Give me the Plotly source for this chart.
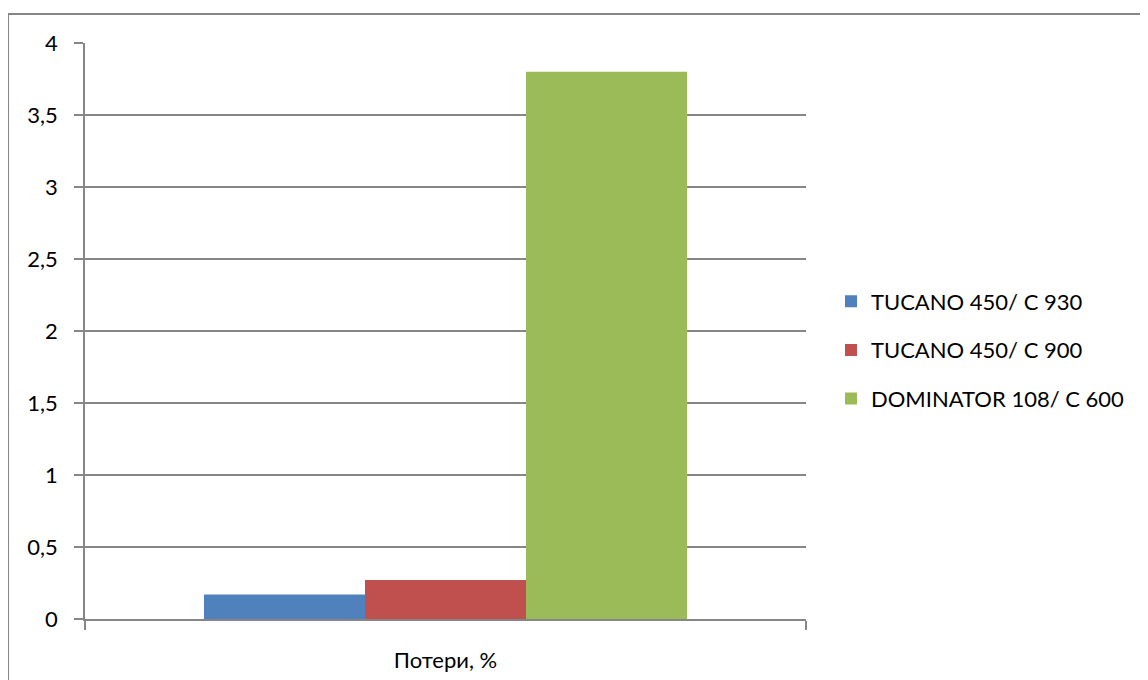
import plotly.graph_objects as go

categories = ["Потери, %"]
series_names = ["TUCANO 450/ C 930", "TUCANO 450/ C 900", "DOMINATOR 108/ C 600"]
series_values = [[0.17], [0.27], [3.8]]
series_colors = ["#4F81BD", "#C0504D", "#9BBB59"]
y_ticks = [0, 0.5, 1, 1.5, 2, 2.5, 3, 3.5, 4]

W, H = 1148, 680
OFF = 8  # page body margin
ml, mt = 85 - OFF, 43 - OFF
mr = W - (806 - OFF)
mb = H - (619 - OFF)
pw, ph = W - ml - mr, H - mt - mb

fig = go.Figure()
for name, vals, col in zip(series_names, series_values, series_colors):
    fig.add_trace(go.Bar(x=categories, y=vals, name=name, marker_color=col,
                         marker_line_width=0, legendgroup=name))

FONT = "Lato"
grid = "#868686"
fig.update_layout(
    width=W, height=H,
    margin=dict(l=ml, r=mr, t=mt, b=mb),
    paper_bgcolor="white", plot_bgcolor="white",
    barmode="group", bargap=0.33, bargroupgap=0,
    separators=", ",
    font=dict(family=FONT, size=22, color="black"),
    showlegend=True,
    legend=dict(x=(844 - OFF - 13 - ml) / pw, y=(619 - 350) / 576,
                xanchor="left", yanchor="middle",
                font=dict(family=FONT, size=22, color="black"),
                tracegroupgap=17, itemwidth=30, bgcolor="rgba(0,0,0,0)"),
    xaxis=dict(showline=True, linecolor=grid, linewidth=1.5, ticks="outside",
               tickson="boundaries", ticklen=9, tickcolor=grid, tickwidth=1.5,
               showgrid=False, ticklabelstandoff=21, tickfont=dict(size=22)),
    yaxis=dict(range=[0, 4], tickvals=y_ticks, showline=True, linecolor=grid,
               linewidth=1.5, ticks="outside", ticklen=9, tickcolor=grid,
               tickwidth=1.5, showgrid=True, gridcolor=grid, gridwidth=1.5,
               zeroline=False, ticklabelstandoff=12, tickfont=dict(size=22)),
)

# outer chart border (only top/left fall inside the visible window)
fig.add_shape(type="rect", xref="paper", yref="paper",
              x0=(0 - ml) / pw, x1=(1170 - ml) / pw,
              y0=(H - mb - 700) / ph, y1=(H - mb - 6) / ph,
              line=dict(color="#868686", width=2), fillcolor="rgba(0,0,0,0)",
              layer="below")

fig.write_html("out.html")
